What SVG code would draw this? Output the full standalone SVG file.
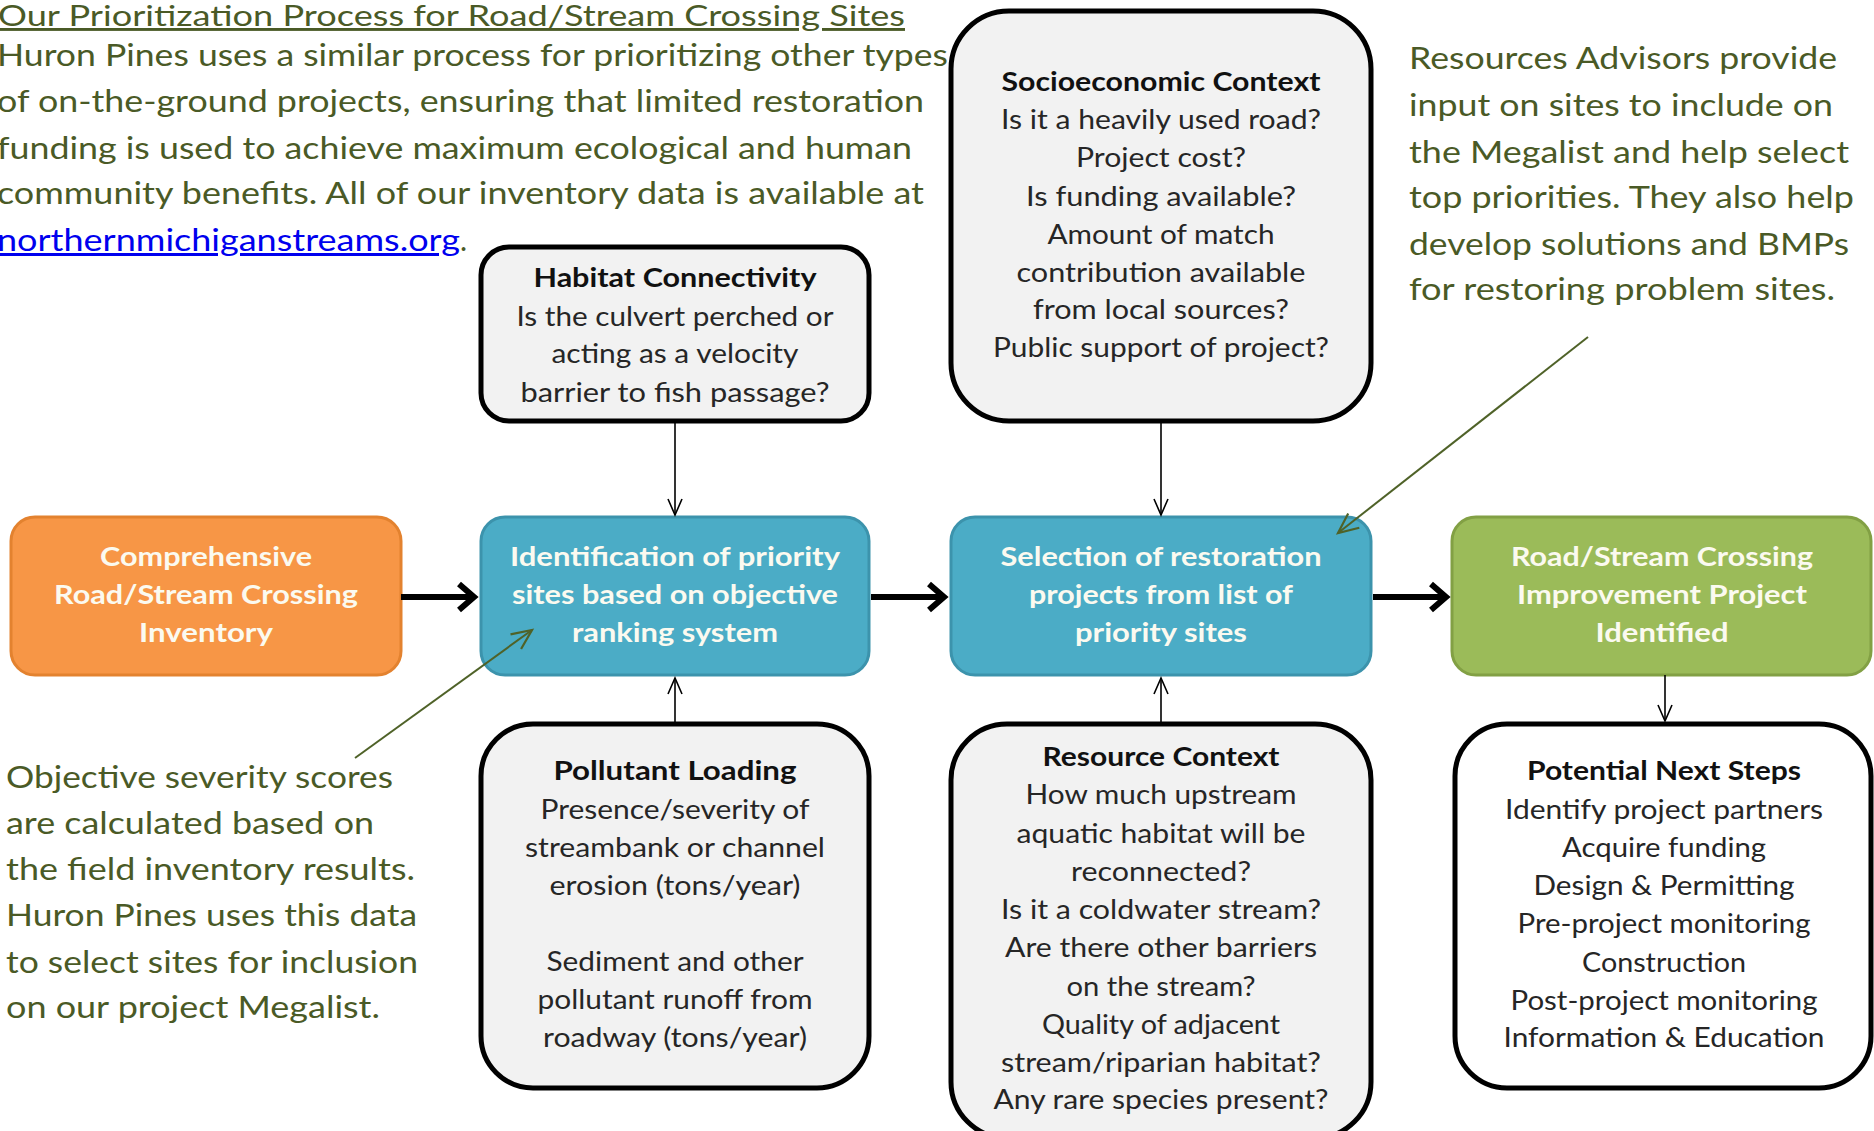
<svg xmlns="http://www.w3.org/2000/svg" width="1874" height="1131" viewBox="0 0 1874 1131">
<style>
.olive{font-family:Lato,"Liberation Sans",sans-serif;font-size:30px;fill:#4A5A26}
.bx{font-family:Lato,"Liberation Sans",sans-serif;font-size:26px;fill:#262626;text-anchor:middle}
.bxh{font-family:Lato,"Liberation Sans",sans-serif;font-size:26px;font-weight:bold;fill:#111;text-anchor:middle}
.mn{font-family:Lato,"Liberation Sans",sans-serif;font-size:27px;font-weight:bold;fill:#FBFAF0;text-anchor:middle}
.gray{fill:#F2F2F2;stroke:#000;stroke-width:5}
.thin{stroke:#000;stroke-width:1.6;fill:none}
.thick{stroke:#000;stroke-width:6;fill:none}
.ann{stroke:#4F6228;stroke-width:2;fill:none}
</style>
<defs>
<marker id="vThin" markerUnits="userSpaceOnUse" viewBox="-2 -2 20 18" markerWidth="20" markerHeight="18" refX="16" refY="7" orient="auto" overflow="visible">
<path d="M0,0 L16,7 L0,14" fill="none" stroke="#000" stroke-width="1.6"/>
</marker>
<marker id="vThick" markerUnits="userSpaceOnUse" viewBox="-4 -4 24 34" markerWidth="24" markerHeight="34" refX="15" refY="13" orient="auto" overflow="visible">
<path d="M0,0 L15,13 L0,26" fill="none" stroke="#000" stroke-width="6"/>
</marker>
<marker id="vAnn" markerUnits="userSpaceOnUse" viewBox="-2 -2 24 22" markerWidth="24" markerHeight="22" refX="20" refY="9" orient="auto" overflow="visible">
<path d="M0,0 L20,9 L0,18" fill="none" stroke="#4F6228" stroke-width="2.2"/>
</marker>
</defs>
<rect width="1874" height="1131" fill="#fff"/>

<g id="intro">
<text class="olive" x="-2" y="26" style="font-size:29px" textLength="907" lengthAdjust="spacingAndGlyphs" text-decoration="underline">Our Prioritization Process for Road/Stream Crossing Sites</text>
<text class="olive" x="-3" y="66" textLength="951" lengthAdjust="spacingAndGlyphs">Huron Pines uses a similar process for prioritizing other types</text>
<text class="olive" x="-3" y="112" textLength="927" lengthAdjust="spacingAndGlyphs">of on-the-ground projects, ensuring that limited restoration</text>
<text class="olive" x="-3" y="159" textLength="915" lengthAdjust="spacingAndGlyphs">funding is used to achieve maximum ecological and human</text>
<text class="olive" x="-3" y="204" textLength="927" lengthAdjust="spacingAndGlyphs">community benefits. All of our inventory data is available at</text>
<text class="olive" x="-3" y="251"><tspan fill="#0000EE" text-decoration="underline" textLength="463" lengthAdjust="spacingAndGlyphs">northernmichiganstreams.org</tspan><tspan>.</tspan></text>
</g>

<g id="advisors-note">
<text class="olive" x="1409" y="69" textLength="428" lengthAdjust="spacingAndGlyphs">Resources Advisors provide</text>
<text class="olive" x="1409" y="116" textLength="424" lengthAdjust="spacingAndGlyphs">input on sites to include on</text>
<text class="olive" x="1409" y="163" textLength="440" lengthAdjust="spacingAndGlyphs">the Megalist and help select</text>
<text class="olive" x="1409" y="208" textLength="445" lengthAdjust="spacingAndGlyphs">top priorities. They also help</text>
<text class="olive" x="1409" y="255" textLength="440" lengthAdjust="spacingAndGlyphs">develop solutions and BMPs</text>
<text class="olive" x="1409" y="300" textLength="426" lengthAdjust="spacingAndGlyphs">for restoring problem sites.</text>
</g>

<g id="scores-note">
<text class="olive" x="6" y="788" textLength="387" lengthAdjust="spacingAndGlyphs">Objective severity scores</text>
<text class="olive" x="6" y="834" textLength="368" lengthAdjust="spacingAndGlyphs">are calculated based on</text>
<text class="olive" x="6" y="880" textLength="409" lengthAdjust="spacingAndGlyphs">the field inventory results.</text>
<text class="olive" x="6" y="926" textLength="411" lengthAdjust="spacingAndGlyphs">Huron Pines uses this data</text>
<text class="olive" x="6" y="973" textLength="412" lengthAdjust="spacingAndGlyphs">to select sites for inclusion</text>
<text class="olive" x="6" y="1018" textLength="374" lengthAdjust="spacingAndGlyphs">on our project Megalist.</text>
</g>

<g id="habitat">
<rect class="gray" x="481" y="247" width="388" height="174" rx="28"/>
<text class="bxh" x="675" y="287" textLength="283" lengthAdjust="spacingAndGlyphs">Habitat Connectivity</text>
<text class="bx" x="675" y="326" textLength="317" lengthAdjust="spacingAndGlyphs">Is the culvert perched or</text>
<text class="bx" x="675" y="363" textLength="247" lengthAdjust="spacingAndGlyphs">acting as a velocity</text>
<text class="bx" x="675" y="402" textLength="309" lengthAdjust="spacingAndGlyphs">barrier to fish passage?</text>
</g>

<g id="socioeconomic">
<rect class="gray" x="951" y="11" width="420" height="410" rx="58"/>
<text class="bxh" x="1161" y="91" textLength="319" lengthAdjust="spacingAndGlyphs">Socioeconomic Context</text>
<text class="bx" x="1161" y="129" textLength="320" lengthAdjust="spacingAndGlyphs">Is it a heavily used road?</text>
<text class="bx" x="1161" y="167" textLength="170" lengthAdjust="spacingAndGlyphs">Project cost?</text>
<text class="bx" x="1161" y="206" textLength="270" lengthAdjust="spacingAndGlyphs">Is funding available?</text>
<text class="bx" x="1161" y="244" textLength="227" lengthAdjust="spacingAndGlyphs">Amount of match</text>
<text class="bx" x="1161" y="282" textLength="289" lengthAdjust="spacingAndGlyphs">contribution available</text>
<text class="bx" x="1161" y="319" textLength="256" lengthAdjust="spacingAndGlyphs">from local sources?</text>
<text class="bx" x="1161" y="357" textLength="336" lengthAdjust="spacingAndGlyphs">Public support of project?</text>
</g>

<g id="inventory">
<rect x="11" y="517" width="390" height="158" rx="24" fill="#F79646" stroke="#E3822F" stroke-width="3"/>
<text class="mn" x="206" y="566" textLength="212" lengthAdjust="spacingAndGlyphs">Comprehensive</text>
<text class="mn" x="206" y="604" textLength="304" lengthAdjust="spacingAndGlyphs">Road/Stream Crossing</text>
<text class="mn" x="206" y="642" textLength="134" lengthAdjust="spacingAndGlyphs">Inventory</text>
</g>

<g id="identification">
<rect x="481" y="517" width="388" height="158" rx="24" fill="#4BACC6" stroke="#3C93AC" stroke-width="3"/>
<text class="mn" x="675" y="566" textLength="330" lengthAdjust="spacingAndGlyphs">Identification of priority</text>
<text class="mn" x="675" y="604" textLength="326" lengthAdjust="spacingAndGlyphs">sites based on objective</text>
<text class="mn" x="675" y="642" textLength="206" lengthAdjust="spacingAndGlyphs">ranking system</text>
</g>

<g id="selection">
<rect x="951" y="517" width="420" height="158" rx="24" fill="#4BACC6" stroke="#3C93AC" stroke-width="3"/>
<text class="mn" x="1161" y="566" textLength="321" lengthAdjust="spacingAndGlyphs">Selection of restoration</text>
<text class="mn" x="1161" y="604" textLength="264" lengthAdjust="spacingAndGlyphs">projects from list of</text>
<text class="mn" x="1161" y="642" textLength="172" lengthAdjust="spacingAndGlyphs">priority sites</text>
</g>

<g id="identified">
<rect x="1452" y="517" width="419" height="158" rx="24" fill="#9BBB59" stroke="#82A044" stroke-width="3"/>
<text class="mn" x="1662" y="566" textLength="302" lengthAdjust="spacingAndGlyphs">Road/Stream Crossing</text>
<text class="mn" x="1662" y="604" textLength="290" lengthAdjust="spacingAndGlyphs">Improvement Project</text>
<text class="mn" x="1662" y="642" textLength="133" lengthAdjust="spacingAndGlyphs">Identified</text>
</g>

<g id="pollutant">
<rect class="gray" x="481" y="724" width="388" height="364" rx="52"/>
<text class="bxh" x="675" y="780" textLength="243" lengthAdjust="spacingAndGlyphs">Pollutant Loading</text>
<text class="bx" x="675" y="819" textLength="269" lengthAdjust="spacingAndGlyphs">Presence/severity of</text>
<text class="bx" x="675" y="857" textLength="300" lengthAdjust="spacingAndGlyphs">streambank or channel</text>
<text class="bx" x="675" y="895" textLength="251" lengthAdjust="spacingAndGlyphs">erosion (tons/year)</text>
<text class="bx" x="675" y="971" textLength="257" lengthAdjust="spacingAndGlyphs">Sediment and other</text>
<text class="bx" x="675" y="1009" textLength="275" lengthAdjust="spacingAndGlyphs">pollutant runoff from</text>
<text class="bx" x="675" y="1047" textLength="264" lengthAdjust="spacingAndGlyphs">roadway (tons/year)</text>
</g>

<g id="resource">
<rect class="gray" x="951" y="724" width="420" height="414" rx="56"/>
<text class="bxh" x="1161" y="766" textLength="237" lengthAdjust="spacingAndGlyphs">Resource Context</text>
<text class="bx" x="1161" y="804" textLength="271" lengthAdjust="spacingAndGlyphs">How much upstream</text>
<text class="bx" x="1161" y="843" textLength="289" lengthAdjust="spacingAndGlyphs">aquatic habitat will be</text>
<text class="bx" x="1161" y="881" textLength="180" lengthAdjust="spacingAndGlyphs">reconnected?</text>
<text class="bx" x="1161" y="919" textLength="320" lengthAdjust="spacingAndGlyphs">Is it a coldwater stream?</text>
<text class="bx" x="1161" y="957" textLength="312" lengthAdjust="spacingAndGlyphs">Are there other barriers</text>
<text class="bx" x="1161" y="996" textLength="189" lengthAdjust="spacingAndGlyphs">on the stream?</text>
<text class="bx" x="1161" y="1034" textLength="238" lengthAdjust="spacingAndGlyphs">Quality of adjacent</text>
<text class="bx" x="1161" y="1072" textLength="320" lengthAdjust="spacingAndGlyphs">stream/riparian habitat?</text>
<text class="bx" x="1161" y="1109" textLength="335" lengthAdjust="spacingAndGlyphs">Any rare species present?</text>
</g>

<g id="next-steps">
<rect x="1455" y="724" width="416" height="364" rx="52" fill="#FFFFFF" stroke="#000" stroke-width="5"/>
<text class="bxh" x="1664" y="780" textLength="274" lengthAdjust="spacingAndGlyphs">Potential Next Steps</text>
<text class="bx" x="1664" y="819" textLength="318" lengthAdjust="spacingAndGlyphs">Identify project partners</text>
<text class="bx" x="1664" y="857" textLength="204" lengthAdjust="spacingAndGlyphs">Acquire funding</text>
<text class="bx" x="1664" y="895" textLength="261" lengthAdjust="spacingAndGlyphs">Design &amp; Permitting</text>
<text class="bx" x="1664" y="933" textLength="293" lengthAdjust="spacingAndGlyphs">Pre-project monitoring</text>
<text class="bx" x="1664" y="972" textLength="164" lengthAdjust="spacingAndGlyphs">Construction</text>
<text class="bx" x="1664" y="1010" textLength="307" lengthAdjust="spacingAndGlyphs">Post-project monitoring</text>
<text class="bx" x="1664" y="1047" textLength="321" lengthAdjust="spacingAndGlyphs">Information &amp; Education</text>
</g>

<g id="connectors">
<path class="thick" d="M401,597 H474" marker-end="url(#vThick)"/>
<path class="thick" d="M871,597 H944" marker-end="url(#vThick)"/>
<path class="thick" d="M1373,597 H1446" marker-end="url(#vThick)"/>
<path class="thin" d="M675,422 V515" marker-end="url(#vThin)"/>
<path class="thin" d="M675,722 V678" marker-end="url(#vThin)"/>
<path class="thin" d="M1161,422 V515" marker-end="url(#vThin)"/>
<path class="thin" d="M1161,722 V678" marker-end="url(#vThin)"/>
<path class="thin" d="M1665,675 V721" marker-end="url(#vThin)"/>
<path class="ann" d="M1588,337 L1338,533" marker-end="url(#vAnn)"/>
<path class="ann" d="M355,758 L532,630" marker-end="url(#vAnn)"/>
</g>
</svg>
